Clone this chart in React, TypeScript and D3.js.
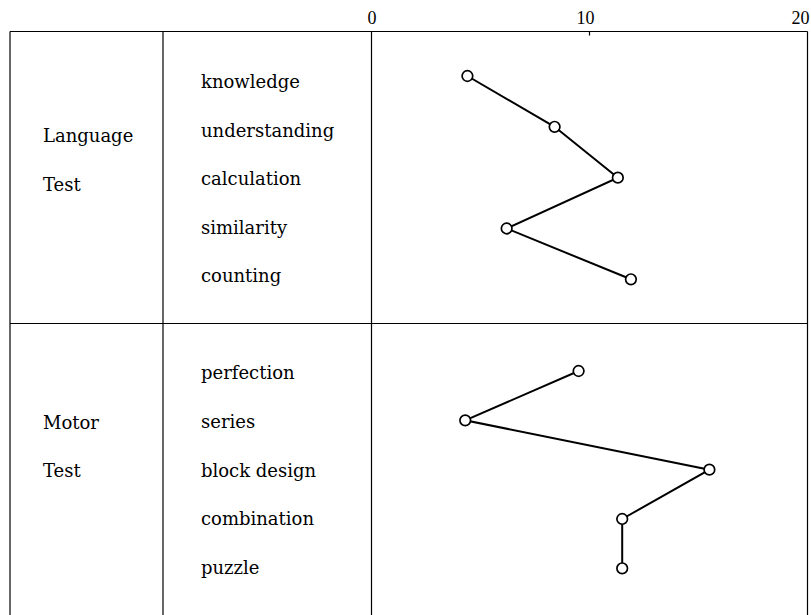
import * as d3 from "d3";

// scores
const languageItems = ["knowledge", "understanding", "calculation", "similarity", "counting"];
const languageScores = [4.4, 8.4, 11.3, 6.2, 11.9];
const motorItems = ["perfection", "series", "block design", "combination", "puzzle"];
const motorScores = [9.5, 4.3, 15.5, 11.5, 11.5];
const groupNames = [["Language", "Test"], ["Motor", "Test"]];
const tickValues = [0, 10, 20];

const W = 811;
const H = 615;
const FONT = "'DejaVu Serif', serif";
const TICK_FONT = "'Liberation Serif', serif";

function Section({ items, scores, top, pointRange, labelRange, group, groupY, x }) {
  const yPt = d3.scalePoint().domain(items).range([top + pointRange[0], top + pointRange[1]]);
  const yLab = d3.scalePoint().domain(items).range([top + labelRange[0], top + labelRange[1]]);
  const pts = items.map((d, i) => [x(scores[i]), yPt(d)]);
  const line = d3.line();
  return (
    <g>
      <text x={43} y={top + groupY[0]} fontSize={18} fontFamily={FONT}>{group[0]}</text>
      <text x={43} y={top + groupY[1]} fontSize={18} fontFamily={FONT}>{group[1]}</text>
      {items.map((d) => (
        <text key={d} x={201} y={yLab(d)} fontSize={18} fontFamily={FONT}>{d}</text>
      ))}
      <path d={line(pts)} fill="none" stroke="#000" strokeWidth={2} />
      {pts.map((p, i) => (
        <circle key={i} cx={p[0]} cy={p[1]} r={5.3} fill="#fff" stroke="#000" strokeWidth={1.7} />
      ))}
    </g>
  );
}

export default function App() {
  const x = d3.scaleLinear().domain([0, 20]).range([371.5, 807.5]);
  const top = 31.5;
  const mid = 323.5;
  const left = 10;
  const div1 = 163;

  return (
    <svg width={W} height={H} style={{ position: "absolute", left: 0, top: 0, background: "#fff" }}>
      {/* frame */}
      <g stroke="#000" strokeWidth={1.2} fill="none">
        <line x1={left} x2={x(20)} y1={top} y2={top} />
        <line x1={left} x2={x(20)} y1={mid} y2={mid} />
        <line x1={left} x2={left} y1={top} y2={H} />
        <line x1={div1} x2={div1} y1={top} y2={H} />
        <line x1={x(0)} x2={x(0)} y1={top} y2={H} />
        <line x1={x(20)} x2={x(20)} y1={top} y2={H} />
        <line x1={x(10)} x2={x(10)} y1={top} y2={top + 4} />
      </g>
      {/* axis labels */}
      {tickValues.map((t, i) => (
        <text
          key={t}
          x={x(t) + (i === 0 ? 0.5 : i === 1 ? -4 : -7)}
          y={24}
          textAnchor="middle"
          fontSize={18}
          fontFamily={TICK_FONT}
        >
          {t}
        </text>
      ))}
      <Section
        items={languageItems}
        scores={languageScores}
        top={top}
        pointRange={[44.5, 247.8]}
        labelRange={[56.8, 250.8]}
        group={groupNames[0]}
        groupY={[110.2, 159.2]}
        x={x}
      />
      <Section
        items={motorItems}
        scores={motorScores}
        top={mid}
        pointRange={[47.5, 244.8]}
        labelRange={[55.8, 250.5]}
        group={groupNames[1]}
        groupY={[105.8, 153.2]}
        x={x}
      />
    </svg>
  );
}
